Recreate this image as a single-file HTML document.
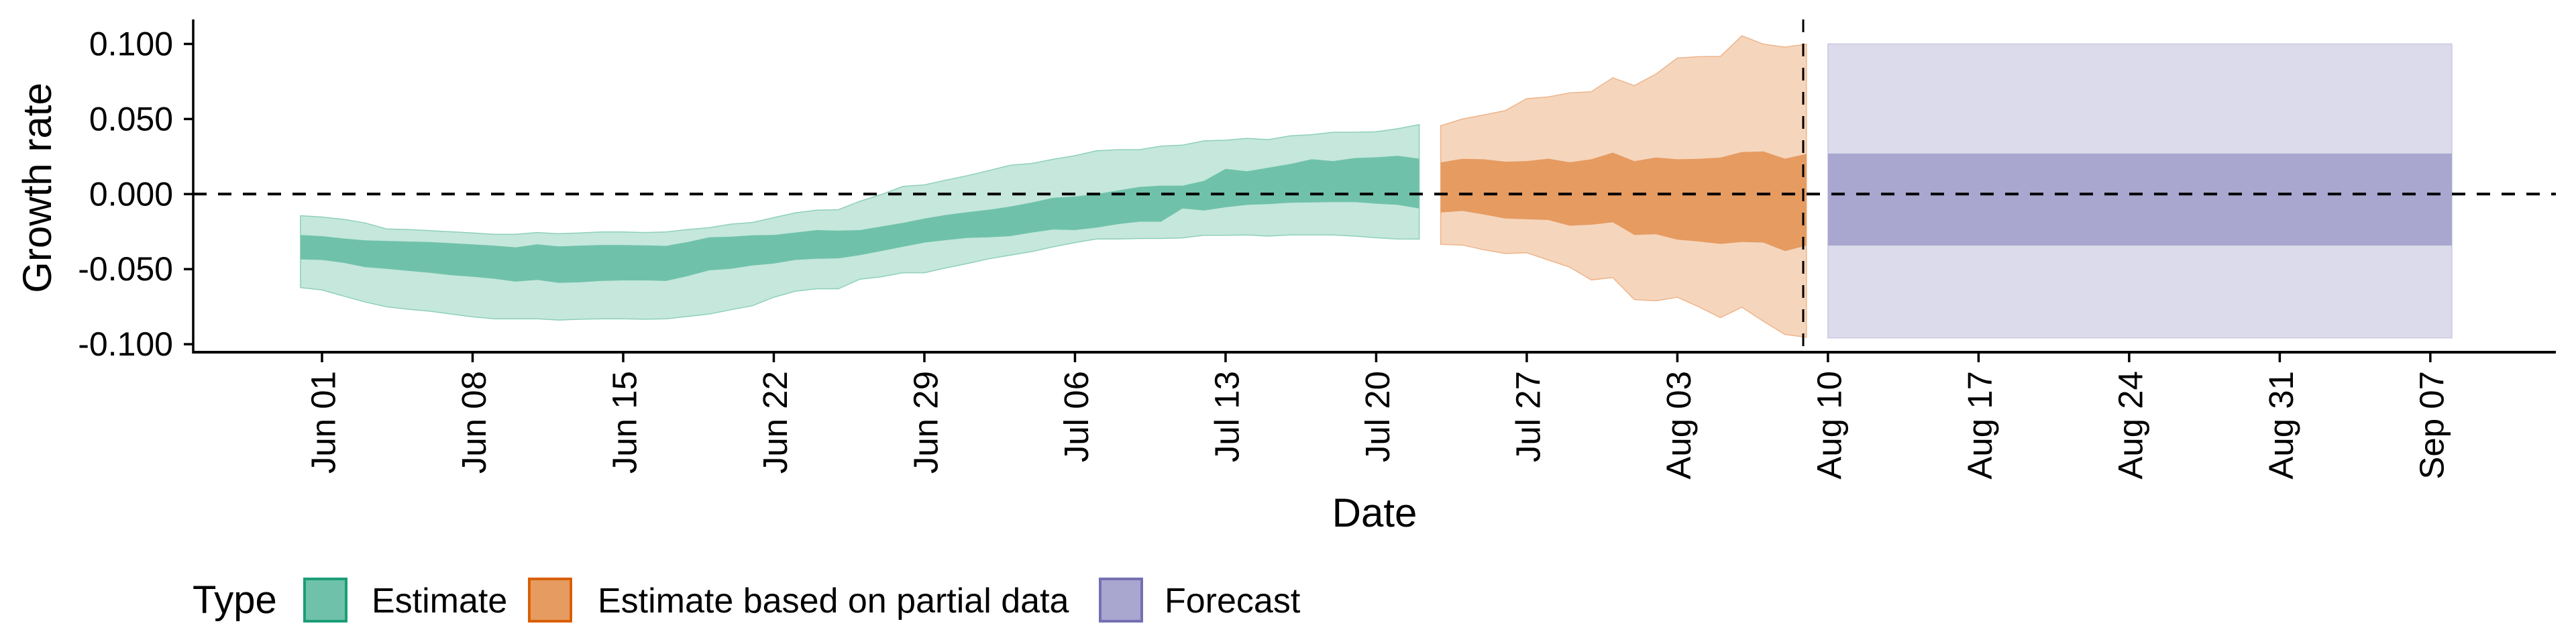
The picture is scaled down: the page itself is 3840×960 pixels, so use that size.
<!DOCTYPE html>
<html><head><meta charset="utf-8"><style>
html,body{margin:0;padding:0;background:#fff;}
svg{display:block;font-family:"Liberation Sans",Arial,sans-serif;}
</style></head><body>
<svg id="chart" width="3840" height="960" viewBox="0 0 3840 960" xmlns="http://www.w3.org/2000/svg">
<g id="bands"></g>
<g id="axes"></g>
<g id="legend"></g>
</svg>
<script>
// ---- data ----
const estimateStart = "2020-05-31";
const estOuterUpper = [-.0144,-.0153,-.0168,-.0192,-.0232,-.0236,-.0243,-.0251,-.0259,-.0268,-.0268,-.0256,-.0264,-.0259,-.0252,-.0252,-.0256,-.0252,-.0236,-.0224,-.0200,-.0189,-.0157,-.0125,-.0107,-.0104,-.0048,-.0003,.0051,.0061,.0093,.0123,.0157,.0192,.0204,.0232,.0256,.0288,.0296,.0296,.0319,.0326,.0355,.0359,.0371,.0363,.0388,.0396,.0412,.0412,.0415,.0435,.0463];
const estInnerUpper = [-.0272,-.0280,-.0296,-.0308,-.0312,-.0316,-.0319,-.0327,-.0335,-.0343,-.0355,-.0335,-.0348,-.0343,-.0339,-.0339,-.0342,-.0345,-.0319,-.0288,-.0284,-.0275,-.0272,-.0256,-.0240,-.0243,-.0240,-.0216,-.0192,-.0163,-.0139,-.0120,-.0104,-.0083,-.0056,-.0024,-.0016,0,.0024,.0048,.0056,.0056,.0088,.0168,.0152,.0176,.0200,.0232,.0220,.0240,.0245,.0255,.0236];
const estInnerLower = [-.0435,-.0439,-.0458,-.0487,-.0498,-.0511,-.0524,-.0540,-.0551,-.0564,-.0583,-.0572,-.0591,-.0588,-.0578,-.0575,-.0575,-.0578,-.0546,-.0508,-.0498,-.0476,-.0463,-.0439,-.0431,-.0428,-.0407,-.0380,-.0351,-.0323,-.0307,-.0292,-.0288,-.0280,-.0256,-.0236,-.0240,-.0224,-.0200,-.0184,-.0184,-.0096,-.0109,-.0088,-.0072,-.0067,-.0058,-.0056,-.0053,-.0053,-.0064,-.0072,-.0096];
const estOuterLower = [-.0623,-.0639,-.0679,-.0719,-.0751,-.0767,-.0780,-.0799,-.0818,-.0831,-.0831,-.0831,-.0839,-.0834,-.0831,-.0831,-.0834,-.0831,-.0815,-.0799,-.0771,-.0744,-.0687,-.0647,-.0631,-.0631,-.0567,-.0551,-.0524,-.0524,-.0492,-.0463,-.0431,-.0407,-.0383,-.0351,-.0323,-.0299,-.0299,-.0296,-.0296,-.0292,-.0275,-.0275,-.0272,-.0280,-.0272,-.0272,-.0272,-.0280,-.0291,-.0299,-.0300];

const partialStart = "2020-07-23";
const parOuterUpper = [.0455,.0500,.0527,.0556,.0636,.0647,.0674,.0682,.0775,.0722,.0799,.0906,.0915,.0917,.1054,.0998,.0979,.0998];
const parInnerUpper = [.0211,.0235,.0232,.0216,.0220,.0236,.0212,.0232,.0276,.0219,.0244,.0232,.0235,.0243,.0280,.0284,.0236,.0267];
const parInnerLower = [-.0123,-.0112,-.0136,-.0163,-.0168,-.0173,-.0211,-.0204,-.0188,-.0272,-.0268,-.0304,-.0316,-.0332,-.0319,-.0323,-.0380,-.0343];
const parOuterLower = [-.0335,-.0339,-.0371,-.0396,-.0391,-.0439,-.0487,-.0572,-.0556,-.0703,-.0711,-.0687,-.0751,-.0823,-.0754,-.0847,-.0935,-.0954];

const forecastDates = ["2020-08-10","2020-09-08"];
const fcOuter = [-0.0958, 0.100];
const fcInner = [-0.0343, 0.027];

const forecastLineDate = "2020-08-09";
const yTicks = [-0.1,-0.05,0,0.05,0.1];
const yTickLabels = ["-0.100","-0.050","0.000","0.050","0.100"];
const xTickDates = ["2020-06-01","2020-06-08","2020-06-15","2020-06-22","2020-06-29","2020-07-06","2020-07-13","2020-07-20","2020-07-27","2020-08-03","2020-08-10","2020-08-17","2020-08-24","2020-08-31","2020-09-07"];
const xTickLabels = ["Jun 01","Jun 08","Jun 15","Jun 22","Jun 29","Jul 06","Jul 13","Jul 20","Jul 27","Aug 03","Aug 10","Aug 17","Aug 24","Aug 31","Sep 07"];

// ---- scales ----
const NS="http://www.w3.org/2000/svg";
const DAY=86400000, ORIGIN=Date.UTC(2020,5,1);
function dayOf(s){const p=s.split("-");return (Date.UTC(+p[0],+p[1]-1,+p[2])-ORIGIN)/DAY;}
function xScale(d){return 480 + d*32.07;}
function yScale(v){return 289.3 - v*2238;}
const PL=288, PR=3810, PT=29, PB=525;

function mk(tag,attrs,parent){const e=document.createElementNS(NS,tag);for(const k in attrs)e.setAttribute(k,attrs[k]);parent.appendChild(e);return e;}

const bands=document.getElementById('bands');
function band(start,up,lo,fill,stroke,name){
  const d0=dayOf(start);let pts=[];
  for(let i=0;i<up.length;i++)pts.push(xScale(d0+i).toFixed(1)+","+yScale(up[i]).toFixed(1));
  for(let i=lo.length-1;i>=0;i--)pts.push(xScale(d0+i).toFixed(1)+","+yScale(lo[i]).toFixed(1));
  const p=mk('polygon',{points:pts.join(" "),fill:fill,stroke:stroke,'stroke-width':1.5},bands);
  
  
}
band(estimateStart,estOuterUpper,estOuterLower,"#c5e7dc","#8fd0bb","estimate-outer-band");
band(estimateStart,estInnerUpper,estInnerLower,"#6fc2a9","none","estimate-inner-band");
band(partialStart,parOuterUpper,parOuterLower,"#f5d6bd","#eeb48a","partial-outer-band");
band(partialStart,parInnerUpper,parInnerLower,"#e69b61","none","partial-inner-band");
function rectBand(vals,fill,stroke,name){
  const x0=xScale(dayOf(forecastDates[0])),x1=xScale(dayOf(forecastDates[1]));
  const r=mk('rect',{x:x0,y:yScale(vals[1]),width:x1-x0,height:yScale(vals[0])-yScale(vals[1]),fill:fill,stroke:stroke,'stroke-width':1.5},bands);
  
  
}
rectBand(fcOuter,"#dcdbeb","#cac8e2","forecast-outer-band");
rectBand(fcInner,"#a9a6cf","none","forecast-inner-band");

const axes=document.getElementById('axes');
let z=mk('line',{x1:PL,x2:PR,y1:yScale(0),y2:yScale(0),stroke:"#000",'stroke-width':4,'stroke-dasharray':"20 17"},axes);


let vl=mk('line',{x1:xScale(dayOf(forecastLineDate)-0.15),x2:xScale(dayOf(forecastLineDate)-0.15),y1:PT,y2:PB,stroke:"#000",'stroke-width':3,'stroke-dasharray':"19 17"},axes);



let ya=mk('line',{x1:PL,x2:PL,y1:PT,y2:PB+2,stroke:"#000",'stroke-width':3.5},axes);


let xa=mk('line',{x1:PL-1.5,x2:PR,y1:PB,y2:PB,stroke:"#000",'stroke-width':4},axes);



yTicks.forEach((v,i)=>{
  const y=yScale(v);
  const t=mk('line',{x1:PL-14,x2:PL,y1:y,y2:y,stroke:"#000",'stroke-width':3.5},axes);
  
  
  const l=mk('text',{x:PL-30,y:y,'text-anchor':'end','dominant-baseline':'central','font-size':50,fill:"#000"},axes);
  l.textContent=yTickLabels[i];
  
  
});
xTickDates.forEach((s,i)=>{
  const x=xScale(dayOf(s));
  const t=mk('line',{x1:x,x2:x,y1:PB,y2:PB+15,stroke:"#000",'stroke-width':3.5},axes);
  
  
  const l=mk('text',{x:0,y:0,transform:`translate(${x+2},553) rotate(-90)`,'text-anchor':'end','dominant-baseline':'central','font-size':51,fill:"#000"},axes);
  l.textContent=xTickLabels[i];
  
  
});
let yt=mk('text',{x:0,y:0,transform:"translate(76,280) rotate(-90)",'text-anchor':'middle','font-size':60,fill:"#000"},axes);
yt.textContent="Growth rate";


let xt=mk('text',{x:(PL+PR)/2,y:785,'text-anchor':'middle','font-size':60,fill:"#000"},axes);
xt.textContent="Date";



const legend=document.getElementById('legend');
let lt=mk('text',{x:287,y:914,'font-size':58,fill:"#000"},legend);
lt.textContent="Type";


const legendLabels=["Estimate","Estimate based on partial data","Forecast"];
const legendKeyX=[452,787,1638];
const legendTextX=[554,891,1736];
const legendFill=["#6fc2a9","#e69b61","#a9a6cf"];
const legendStroke=["#1b9e77","#d95f02","#7570b3"];
legendLabels.forEach((lab,i)=>{
  const g=mk('g',{},legend);
  
  
  const r=mk('rect',{x:legendKeyX[i]+2,y:863,width:62,height:63,fill:legendFill[i],stroke:legendStroke[i],'stroke-width':4},g);
  
  
  const t=mk('text',{x:legendTextX[i],y:913,'font-size':52,fill:"#000"},g);
  t.textContent=lab;
  
  
});
</script>
</body></html>
